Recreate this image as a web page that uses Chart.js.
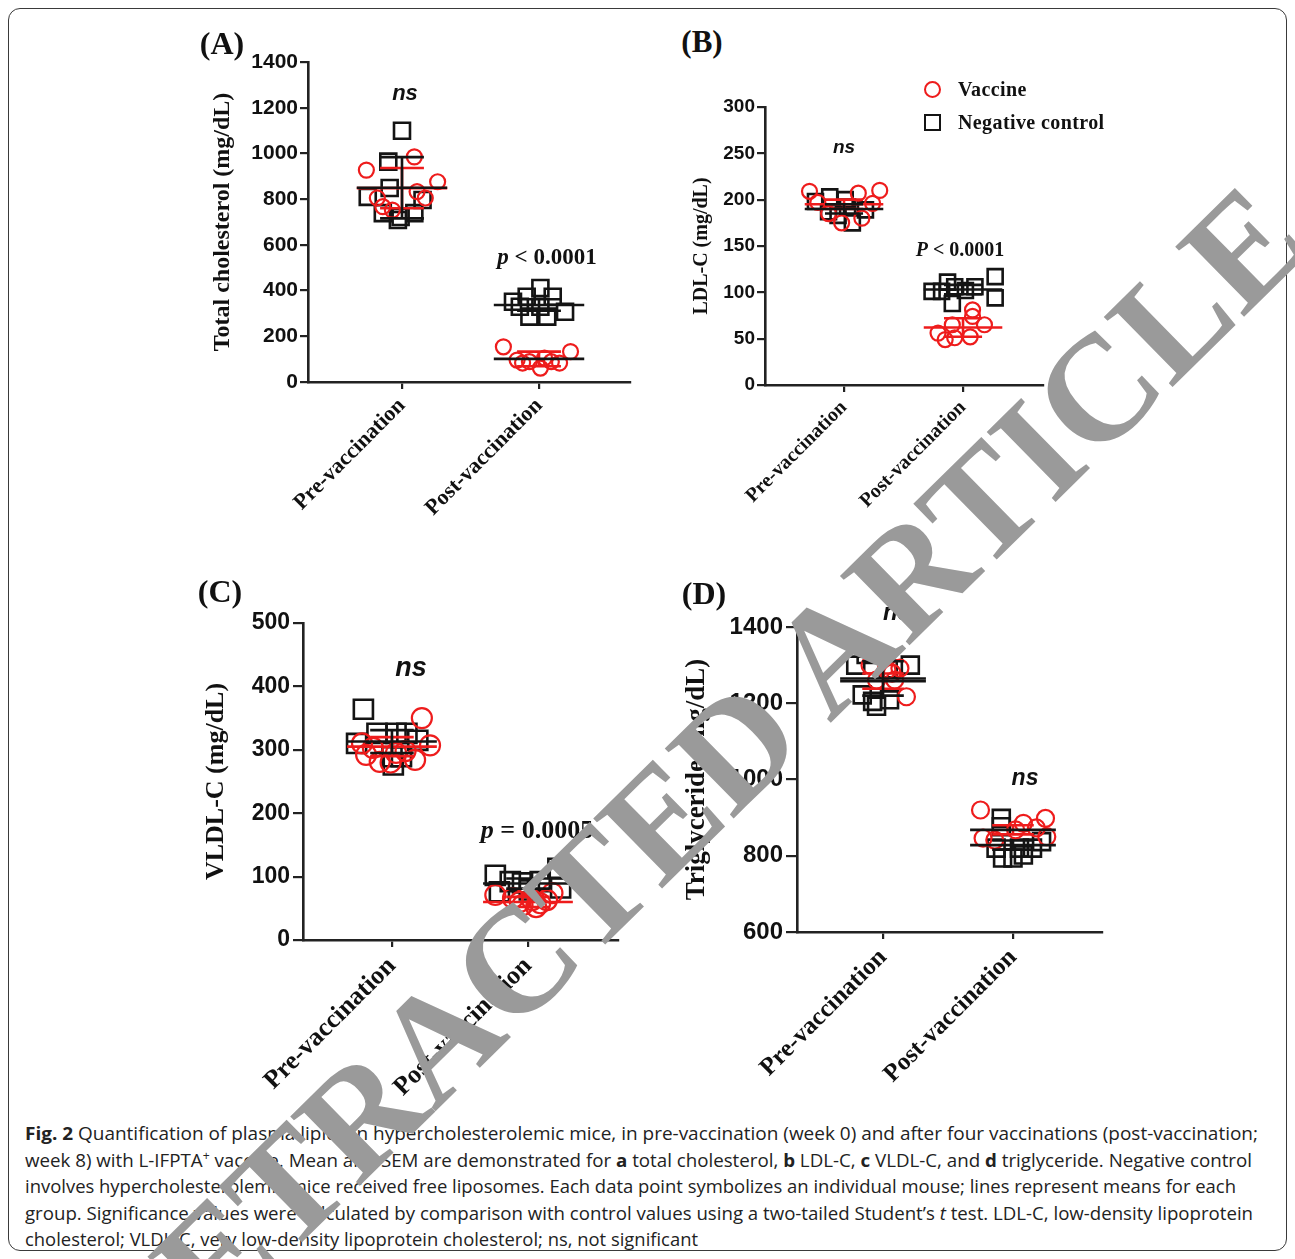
<!DOCTYPE html>
<html><head><meta charset="utf-8">
<script src="https://cdn.jsdelivr.net/npm/chart.js@4.4.1/dist/chart.umd.min.js"></script>
<style>
html,body{margin:0;padding:0;background:#fff;}
#page{position:relative;width:1295px;height:1259px;overflow:hidden;background:#fff;}
#frame{position:absolute;left:8px;top:8px;width:1279px;height:1243px;border:1.5px solid #3a3a3a;border-radius:12px;box-sizing:border-box;}
canvas{position:absolute;}
.t{position:absolute;transform:translate(-50%,-50%);white-space:nowrap;color:#111;line-height:1;}
.serif{font-family:'Liberation Serif','Times New Roman',serif;font-weight:bold;}
.sans{font-family:'Liberation Sans',Arial,sans-serif;font-weight:bold;font-style:italic;}
#legend{position:absolute;left:922px;top:78px;font-family:'Liberation Serif',serif;font-weight:bold;font-size:20px;color:#111;letter-spacing:0.4px;}
#legend .row{position:relative;height:33px;line-height:22px;padding-left:36px;}
#legend .mk{position:absolute;left:2px;top:3px;width:13px;height:13px;box-sizing:content-box;}
#caption{position:absolute;left:25px;top:1120px;font-family:'Open Sans','Noto Sans',sans-serif;font-size:18.5px;color:#222;}
#caption .ln{height:26.5px;line-height:26.5px;white-space:nowrap;transform-origin:0 50%;width:max-content;}
#wm{position:absolute;font-family:'Liberation Serif','Times New Roman',serif;font-weight:bold;font-size:150px;color:#9a9a9a;white-space:nowrap;line-height:1;transform-origin:50% 50%;}
</style>
</head>
<body>
<div id="page">
<div id="frame"></div>
</div>
<script>
// ---------- data ----------
const categories = ['Pre-vaccination', 'Post-vaccination'];
const seriesNames = ['Vaccine', 'Negative control'];

// (A) Total cholesterol (mg/dL)
const aTicks = [0, 200, 400, 600, 800, 1000, 1200, 1400];
const aVaccinePre = [927, 985, 876, 833, 805, 805, 767, 752];
const aVaccinePreJitter = [-0.26, 0.09, 0.26, 0.11, 0.17, -0.18, -0.14, -0.07];
const aVaccinePost = [154, 133, 96, 89, 61, 89, 83, 83, 105];
const aVaccinePostJitter = [-0.26, 0.23, -0.16, -0.07, 0.01, 0.09, 0.15, -0.12, 0.04];
const aControlPre = [1099, 964, 849, 810, 796, 722, 739, 739, 709];
const aControlPreJitter = [0, -0.1, -0.09, -0.25, 0.15, -0.01, 0.09, -0.14, -0.03];
const aControlPost = [411, 351, 373, 373, 307, 286, 286, 329, 329];
const aControlPostJitter = [0.01, -0.19, -0.09, 0.10, 0.19, -0.07, 0.06, -0.14, 0.01];
const aVaccineMean = [848, 101];
const aVaccineErr = [88, 32];
const aControlMean = [850, 337];
const aControlErr = [134, 25];

// (B) LDL-C (mg/dL)
const bTicks = [0, 50, 100, 150, 200, 250, 300];
const bVaccinePre = [209, 210, 207, 197, 185, 175, 180, 196];
const bVaccinePreJitter = [-0.29, 0.30, 0.12, -0.22, -0.13, -0.02, 0.15, 0.24];
const bVaccinePost = [81, 74, 56, 65, 51, 52, 65, 49];
const bVaccinePostJitter = [0.08, 0.08, -0.21, -0.09, -0.07, 0.06, 0.18, -0.15];
const bControlPre = [198, 203, 200, 187, 183, 175, 189, 192];
const bControlPreJitter = [-0.24, -0.12, 0.01, -0.13, -0.05, 0.07, 0.18, 0.03];
const bControlPost = [101, 111, 106, 106, 117, 94, 88, 101, 102];
const bControlPostJitter = [-0.26, -0.13, -0.07, 0.10, 0.27, 0.27, -0.09, -0.18, 0.02];
const bVaccineMean = [195, 62];
const bVaccineErr = [5, 10];
const bControlMean = [190, 103];
const bControlErr = [5, 5];

// (C) VLDL-C (mg/dL)
const cTicks = [0, 100, 200, 300, 400, 500];
const cVaccinePre = [350, 310, 292, 281, 307, 284, 295, 303, 298, 280];
const cVaccinePreJitter = [0.22, -0.22, -0.19, -0.09, 0.28, 0.17, 0.03, -0.14, 0.10, -0.01];
const cVaccinePost = [71, 55, 52, 63, 74, 66, 63, 58, 60];
const cVaccinePostJitter = [-0.24, -0.04, 0.06, 0.14, 0.18, -0.11, 0.03, 0.09, -0.06];
const cControlPre = [364, 310, 326, 326, 326, 315, 289, 289, 276];
const cControlPreJitter = [-0.21, -0.26, -0.11, 0.03, 0.11, 0.19, 0.0, 0.07, 0.01];
const cControlPost = [102, 92, 90, 92, 113, 82, 76, 79];
const cControlPostJitter = [-0.24, -0.13, -0.04, 0.09, 0.22, 0.24, -0.21, 0.01];
const cVaccineMean = [305, 60];
const cVaccineErr = [15, 8];
const cControlMean = [313, 89];
const cControlErr = [18, 8];

// (D) Triglyceride (mg/dL)
const dTicks = [600, 800, 1000, 1200, 1400];
const dVaccinePre = [1300, 1292, 1279, 1261, 1217, 1261, 1287];
const dVaccinePreJitter = [-0.10, 0.13, 0.07, 0.09, 0.18, -0.05, 0.03];
const dVaccinePost = [920, 898, 885, 873, 846, 841, 850, 868];
const dVaccinePostJitter = [-0.25, 0.25, 0.08, 0.18, -0.23, -0.14, 0.26, 0.02];
const dControlPre = [1328, 1300, 1300, 1290, 1222, 1205, 1209, 1192];
const dControlPreJitter = [-0.13, -0.21, 0.21, 0.04, -0.16, -0.08, 0.05, -0.05];
const dControlPost = [898, 876, 820, 794, 794, 802, 820, 837, 820];
const dControlPostJitter = [-0.09, -0.09, -0.13, -0.08, 0.0, 0.08, 0.15, 0.22, 0.05];
const dVaccineMean = [1258, 868];
const dVaccineErr = [20, 12];
const dControlMean = [1265, 828];
const dControlErr = [45, 12];

// ---------- styling ----------
const RED = '#ee1c1c';
const BLACK = '#141414';
const AX = '#222';
const SERIF = "'Liberation Serif','Times New Roman',serif";
const SANS = "'Liberation Sans',Arial,sans-serif";
const page = document.getElementById('page');

const meanPlugin = {
  id: 'meanErr',
  afterDatasetsDraw(chart, args, opts) {
    const ctx = chart.ctx, x = chart.scales.x, y = chart.scales.y;
    (opts.groups || []).forEach(g => {
      [1, 2].forEach((c, i) => {
        const cx = x.getPixelForValue(c);
        const m = y.getPixelForValue(g.mean[i]);
        const hi = y.getPixelForValue(g.mean[i] + g.err[i]);
        const lo = y.getPixelForValue(g.mean[i] - g.err[i]);
        const hw = x.getPixelForValue(c + opts.meanHalf) - cx;
        const cw = x.getPixelForValue(c + opts.capHalf) - cx;
        ctx.save();
        ctx.lineWidth = opts.lineWidth;
        ctx.strokeStyle = g.color;
        ctx.beginPath();
        ctx.moveTo(cx, lo); ctx.lineTo(cx, hi);
        ctx.moveTo(cx - cw, lo); ctx.lineTo(cx + cw, lo);
        ctx.moveTo(cx - cw, hi); ctx.lineTo(cx + cw, hi);
        ctx.stroke();
        ctx.strokeStyle = g.meanColor[i];
        ctx.beginPath();
        ctx.moveTo(cx - hw, m); ctx.lineTo(cx + hw, m);
        ctx.stroke();
        ctx.restore();
      });
    });
  }
};

function pts(vals, jit, c) { return vals.map((v, i) => ({ x: c + jit[i], y: v })); }

function makePanel(p) {
  const cv = document.createElement('canvas');
  cv.width = p.w; cv.height = p.h;
  cv.style.left = p.left + 'px'; cv.style.top = p.top + 'px';
  page.appendChild(cv);
  new Chart(cv, {
    type: 'scatter',
    data: {
      datasets: [
        { label: seriesNames[0],
          data: pts(p.vPre, p.vPreJ, 1).concat(pts(p.vPost, p.vPostJ, 2)),
          pointStyle: 'circle', pointRadius: p.cr, pointHoverRadius: p.cr, pointBorderWidth: 2.2,
          borderColor: RED, backgroundColor: 'rgba(0,0,0,0)' },
        { label: seriesNames[1],
          data: pts(p.cPre, p.cPreJ, 1).concat(pts(p.cPost, p.cPostJ, 2)),
          pointStyle: 'rect', pointRadius: p.sr, pointHoverRadius: p.sr, pointBorderWidth: 2.6,
          borderColor: BLACK, backgroundColor: 'rgba(0,0,0,0)' }
      ]
    },
    options: {
      responsive: false, animation: false, devicePixelRatio: 1,
      layout: { padding: { top: p.padTop, right: p.padRight, left: 0, bottom: 0 } },
      plugins: {
        legend: { display: false }, tooltip: { enabled: false },
        meanErr: {
          meanHalf: 0.33, capHalf: 0.16, lineWidth: 2.6,
          groups: [
            { color: RED, mean: p.vMean, err: p.vErr, meanColor: p.vMeanColor },
            { color: BLACK, mean: p.cMean, err: p.cErr, meanColor: [BLACK, BLACK] }
          ]
        }
      },
      scales: {
        x: {
          type: 'linear', min: p.xmin, max: p.xmax,
          afterBuildTicks: ax => { ax.ticks = categories.map((c, i) => ({ value: i + 1 })); },
          afterFit: ax => { ax.height = p.xH; },
          ticks: {
            callback: v => categories[Math.round(v) - 1],
            minRotation: 45, maxRotation: 45, autoSkip: false,
            font: { family: SERIF, weight: 'bold', size: p.xfs }, color: '#111', padding: p.xpad
          },
          grid: { drawOnChartArea: false, drawTicks: true, tickLength: 7, color: AX, lineWidth: 2.2 },
          border: { display: true, color: AX, width: 2.6 }
        },
        y: {
          min: p.yTicks[0], max: p.yTicks[p.yTicks.length - 1],
          afterBuildTicks: ax => { ax.ticks = p.yTicks.map(v => ({ value: v })); },
          afterFit: ax => { ax.width = p.yW; },
          ticks: {
            callback: v => String(v), autoSkip: false,
            font: { family: SANS, weight: 'bold', size: p.yfs }, color: '#111', padding: p.ypad
          },
          grid: { drawOnChartArea: false, drawTicks: true, tickLength: p.ytl, color: AX, lineWidth: 2.2 },
          border: { display: true, color: AX, width: 2.6 },
          title: {
            display: true, text: p.title, color: '#111',
            font: { family: SERIF, weight: 'bold', size: p.tfs },
            padding: { top: p.tpad, bottom: 0 }
          }
        }
      }
    },
    plugins: [meanPlugin]
  });
}

makePanel({ left: 190, top: 40, w: 460, h: 500, yW: 118, xH: 158, padTop: 22, padRight: 20,
  xmin: 0.314, xmax: 2.664, yTicks: aTicks, title: 'Total cholesterol (mg/dL)',
  tfs: 24, tpad: 18, yfs: 21, ypad: 2, ytl: 8, xfs: 22, xpad: 4, cr: 7.5, sr: 11.3,
  vPre: aVaccinePre, vPreJ: aVaccinePreJitter, vPost: aVaccinePost, vPostJ: aVaccinePostJitter,
  cPre: aControlPre, cPreJ: aControlPreJitter, cPost: aControlPost, cPostJ: aControlPostJitter,
  vMean: aVaccineMean, vErr: aVaccineErr, cMean: aControlMean, cErr: aControlErr, vMeanColor: [RED, BLACK] });

makePanel({ left: 670, top: 90, w: 400, h: 440, yW: 95, xH: 145, padTop: 17, padRight: 27,
  xmin: 0.336, xmax: 2.672, yTicks: bTicks, title: 'LDL-C (mg/dL)',
  tfs: 20, tpad: 20, yfs: 19, ypad: 2, ytl: 8, xfs: 20, xpad: 4, cr: 7.5, sr: 10.6,
  vPre: bVaccinePre, vPreJ: bVaccinePreJitter, vPost: bVaccinePost, vPostJ: bVaccinePostJitter,
  cPre: bControlPre, cPreJ: bControlPreJitter, cPost: bControlPost, cPostJ: bControlPostJitter,
  vMean: bVaccineMean, vErr: bVaccineErr, cMean: bControlMean, cErr: bControlErr, vMeanColor: [RED, RED] });

makePanel({ left: 180, top: 600, w: 460, h: 520, yW: 123, xH: 180, padTop: 23, padRight: 22,
  xmin: 0.346, xmax: 2.662, yTicks: cTicks, title: 'VLDL-C (mg/dL)',
  tfs: 26, tpad: 21, yfs: 23, ypad: 3, ytl: 10, xfs: 26, xpad: 4, cr: 10, sr: 13.5,
  vPre: cVaccinePre, vPreJ: cVaccinePreJitter, vPost: cVaccinePost, vPostJ: cVaccinePostJitter,
  cPre: cControlPre, cPreJ: cControlPreJitter, cPost: cControlPost, cPostJ: cControlPostJitter,
  vMean: cVaccineMean, vErr: cVaccineErr, cMean: cControlMean, cErr: cControlErr, vMeanColor: [RED, RED] });

makePanel({ left: 670, top: 605, w: 450, h: 500, yW: 127, xH: 173, padTop: 22, padRight: 18,
  xmin: 0.338, xmax: 2.685, yTicks: dTicks, title: 'Triglyceride (mg/dL)',
  tfs: 27, tpad: 11, yfs: 24, ypad: 3, ytl: 11, xfs: 25, xpad: 4, cr: 8.5, sr: 12,
  vPre: dVaccinePre, vPreJ: dVaccinePreJitter, vPost: dVaccinePost, vPostJ: dVaccinePostJitter,
  cPre: dControlPre, cPreJ: dControlPreJitter, cPost: dControlPost, cPostJ: dControlPostJitter,
  vMean: dVaccineMean, vErr: dVaccineErr, cMean: dControlMean, cErr: dControlErr, vMeanColor: [BLACK, BLACK] });

// ---------- text labels ----------
function addText(html, x, y, cls, size) {
  const d = document.createElement('div');
  d.className = 't ' + cls;
  d.style.left = x + 'px'; d.style.top = y + 'px'; d.style.fontSize = size + 'px';
  d.innerHTML = html;
  page.appendChild(d);
}
addText('(A)', 222, 43, 'serif', 32);
addText('(B)', 702, 41, 'serif', 31);
addText('(C)', 220, 591, 'serif', 32);
addText('(D)', 704, 593, 'serif', 32);
addText('ns', 405, 93, 'sans', 22);
addText('<i>p</i> &lt; 0.0001', 547, 256, 'serif', 23);
addText('ns', 844, 146, 'sans', 19);
addText('<i>P</i> &lt; 0.0001', 960, 249, 'serif', 20);
addText('ns', 411, 667, 'sans', 27);
addText('<i>p</i> = 0.0005', 537, 830, 'serif', 26);
addText('ns', 897, 612, 'sans', 24);
addText('ns', 1025, 777, 'sans', 23);

// legend
const lg = document.createElement('div');
lg.id = 'legend';
lg.innerHTML =
  '<div class="row"><span class="mk" style="border:2.2px solid ' + RED + ';border-radius:50%;"></span>' + seriesNames[0] + '</div>' +
  '<div class="row"><span class="mk" style="border:2.6px solid ' + BLACK + ';"></span>' + seriesNames[1] + '</div>';
page.appendChild(lg);

// caption
const capLines = [
  '<b>Fig. 2</b> Quantification of plasma lipids in hypercholesterolemic mice, in pre-vaccination (week 0) and after four vaccinations (post-vaccination;',
  'week 8) with L-IFPTA<sup style="font-size:12px;line-height:0">+</sup> vaccine. Mean and SEM are demonstrated for <b>a</b> total cholesterol, <b>b</b> LDL-C, <b>c</b> VLDL-C, and <b>d</b> triglyceride. Negative control',
  'involves hypercholesterolemic mice received free liposomes. Each data point symbolizes an individual mouse; lines represent means for each',
  'group. Significance values were calculated by comparison with control values using a two-tailed Student\u2019s <i>t</i> test. LDL-C, low-density lipoprotein',
  'cholesterol; VLDL-C, very low-density lipoprotein cholesterol; ns, not significant'
];
const capWidths = [1233, 1227, 1211, 1228, 673];
const cap = document.createElement('div');
cap.id = 'caption';
page.appendChild(cap);
capLines.forEach((t, i) => {
  const d = document.createElement('div');
  d.className = 'ln'; d.innerHTML = t;
  cap.appendChild(d);
  const w = d.getBoundingClientRect().width;
  d.style.transform = 'scaleX(' + (capWidths[i] / w).toFixed(4) + ')';
});

// watermark
const wm = document.createElement('div');
wm.id = 'wm';
wm.textContent = 'RETRACTED ARTICLE';
page.appendChild(wm);
const wr = wm.getBoundingClientRect();
wm.style.left = (690 - wr.width / 2) + 'px';
wm.style.top = (790 - wr.height / 2) + 'px';
wm.style.transform = 'rotate(-44.5deg)';
</script>
</body></html>
